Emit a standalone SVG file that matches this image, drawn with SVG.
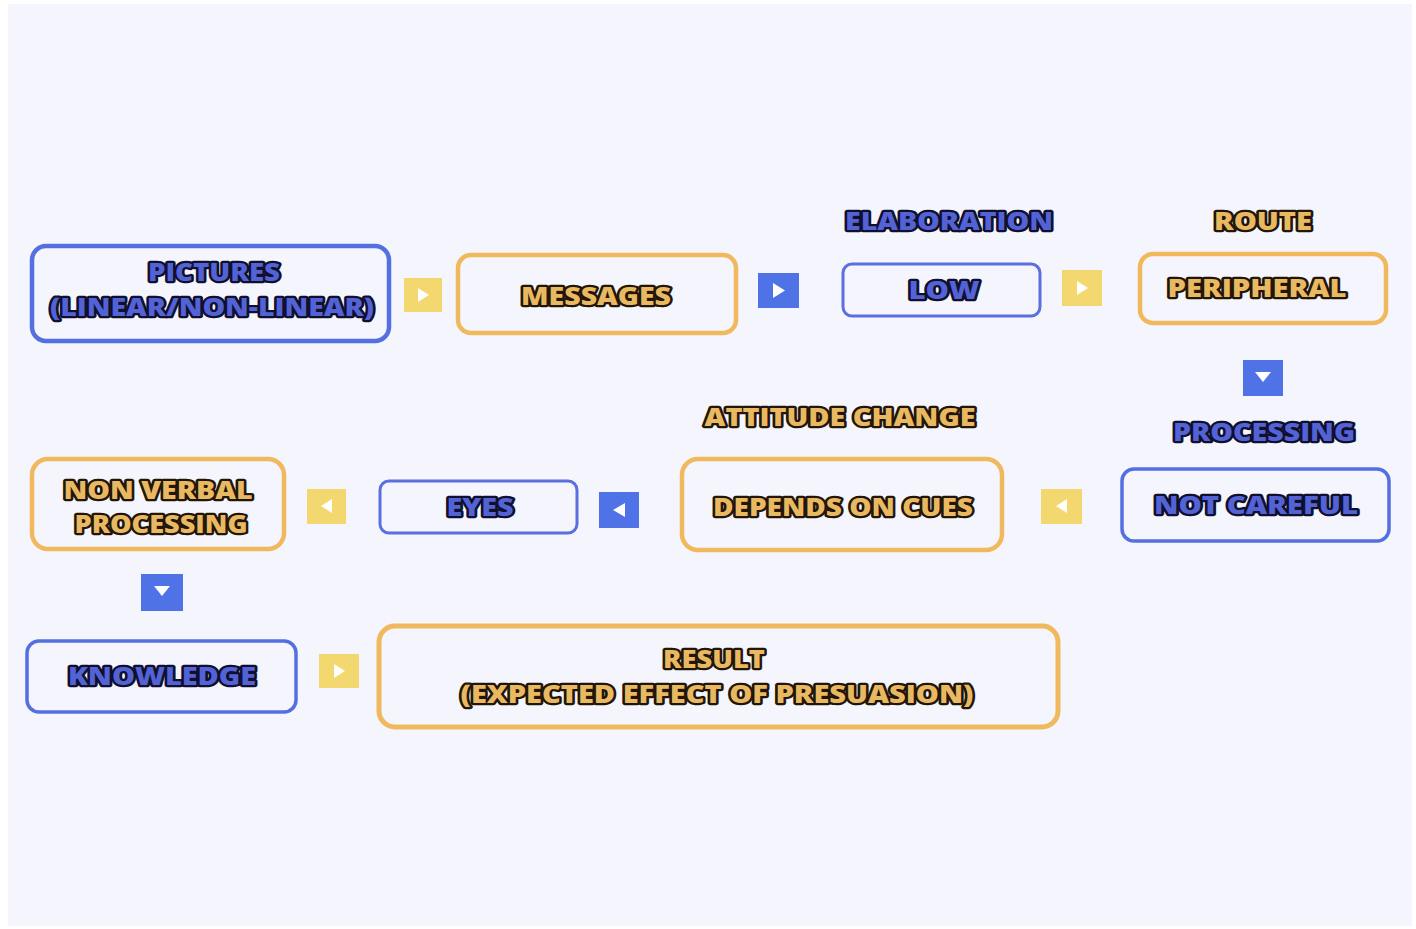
<svg xmlns="http://www.w3.org/2000/svg" width="1416" height="929" viewBox="0 0 1416 929">
<style>
.bg{fill:#f5f5fd}
.bb{fill:none;stroke:#5470e0;stroke-width:4.5}
.bt{fill:none;stroke:#5b70de;stroke-width:3}
.ob{fill:none;stroke:#f1b95e;stroke-width:4.5}
text{font-family:"Open Sans","Liberation Sans",sans-serif;font-weight:800;font-size:24px;text-anchor:middle;paint-order:stroke;stroke-linejoin:round;stroke-width:4.5px}
.tb{fill:#5363d6;stroke:#10102e}
.tg{fill:#e9b962;stroke:#22160a}
.ys{fill:#f3d870}
.bs{fill:#4f72e6}
.tri{fill:#ffffff}
</style>
<rect x="0" y="0" width="1416" height="929" fill="#ffffff"/>
<rect class="bg" x="8" y="4" width="1404" height="922"/>

<g id="connectors">
  <g id="c1"><rect class="ys" x="404" y="278" width="38" height="34"/><path class="tri" d="M418 288 L429 295 L418 302 Z"/></g>
  <g id="c2"><rect class="bs" x="758" y="273" width="41" height="35"/><path class="tri" d="M773 283 L785 290.5 L773 298 Z"/></g>
  <g id="c3"><rect class="ys" x="1062" y="270" width="40" height="36"/><path class="tri" d="M1077 281 L1088 288 L1077 295 Z"/></g>
  <g id="c4"><rect class="bs" x="1243" y="360" width="40" height="36"/><path class="tri" d="M1255 372 L1271 372 L1263 382 Z"/></g>
  <g id="c5"><rect class="ys" x="1041" y="489" width="41" height="35"/><path class="tri" d="M1067 499 L1067 513 L1056 506 Z"/></g>
  <g id="c6"><rect class="bs" x="599" y="492" width="40" height="36"/><path class="tri" d="M625 503 L625 517 L613 510 Z"/></g>
  <g id="c7"><rect class="ys" x="307" y="489" width="39" height="35"/><path class="tri" d="M332 499 L332 513 L321 506 Z"/></g>
  <g id="c8"><rect class="bs" x="141" y="574" width="42" height="37"/><path class="tri" d="M154 586 L170 586 L162 596 Z"/></g>
  <g id="c9"><rect class="ys" x="319" y="654" width="40" height="34"/><path class="tri" d="M334 664 L345 671 L334 678 Z"/></g>
</g>

<g id="n-pictures">
  <rect class="bb" x="32" y="246" width="357" height="95" rx="14"/>
  <text class="tb" x="214" y="281" textLength="132" lengthAdjust="spacingAndGlyphs">PICTURES</text>
  <text class="tb" x="212" y="316" textLength="324" lengthAdjust="spacingAndGlyphs">(LINEAR/NON-LINEAR)</text>
</g>
<g id="n-messages">
  <rect class="ob" x="458" y="255" width="278" height="78" rx="13"/>
  <text class="tg" x="596" y="305" textLength="150" lengthAdjust="spacingAndGlyphs">MESSAGES</text>
</g>
<g id="n-elaboration">
  <text class="tb" x="949" y="230" textLength="208" lengthAdjust="spacingAndGlyphs">ELABORATION</text>
  <rect class="bt" x="843" y="264" width="197" height="52" rx="9"/>
  <text class="tb" x="944" y="299" textLength="71" lengthAdjust="spacingAndGlyphs">LOW</text>
</g>
<g id="n-route">
  <text class="tg" x="1263" y="230" textLength="98" lengthAdjust="spacingAndGlyphs">ROUTE</text>
  <rect class="ob" x="1140" y="254" width="246" height="69" rx="13"/>
  <text class="tg" x="1257" y="297" textLength="179" lengthAdjust="spacingAndGlyphs">PERIPHERAL</text>
</g>
<g id="n-processing">
  <text class="tb" x="1264" y="441" textLength="182" lengthAdjust="spacingAndGlyphs">PROCESSING</text>
  <rect class="bb" x="1122" y="469" width="267" height="72" rx="12" style="stroke-width:3.5"/>
  <text class="tb" x="1256" y="514" textLength="204" lengthAdjust="spacingAndGlyphs">NOT CAREFUL</text>
</g>
<g id="n-attitude">
  <text class="tg" x="840" y="426" textLength="271" lengthAdjust="spacingAndGlyphs">ATTITUDE CHANGE</text>
  <rect class="ob" x="682" y="459" width="320" height="91" rx="16"/>
  <text class="tg" x="843" y="516" textLength="260" lengthAdjust="spacingAndGlyphs">DEPENDS ON CUES</text>
</g>
<g id="n-eyes">
  <rect class="bt" x="380" y="481" width="197" height="52" rx="9"/>
  <text class="tb" x="480" y="516" textLength="67" lengthAdjust="spacingAndGlyphs">EYES</text>
</g>
<g id="n-nonverbal">
  <rect class="ob" x="32" y="459" width="252" height="90" rx="16"/>
  <text class="tg" x="158" y="499" textLength="189" lengthAdjust="spacingAndGlyphs">NON VERBAL</text>
  <text class="tg" x="161" y="533" textLength="173" lengthAdjust="spacingAndGlyphs">PROCESSING</text>
</g>
<g id="n-knowledge">
  <rect class="bb" x="27" y="641" width="269" height="71" rx="12" style="stroke-width:3.5"/>
  <text class="tb" x="162" y="685" textLength="188" lengthAdjust="spacingAndGlyphs">KNOWLEDGE</text>
</g>
<g id="n-result">
  <rect class="ob" x="379" y="626" width="679" height="101" rx="16" style="stroke-width:5"/>
  <text class="tg" x="714" y="668" textLength="102" lengthAdjust="spacingAndGlyphs">RESULT</text>
  <text class="tg" x="717" y="703" textLength="513" lengthAdjust="spacingAndGlyphs">(EXPECTED EFFECT OF PRESUASION)</text>
</g>
</svg>
